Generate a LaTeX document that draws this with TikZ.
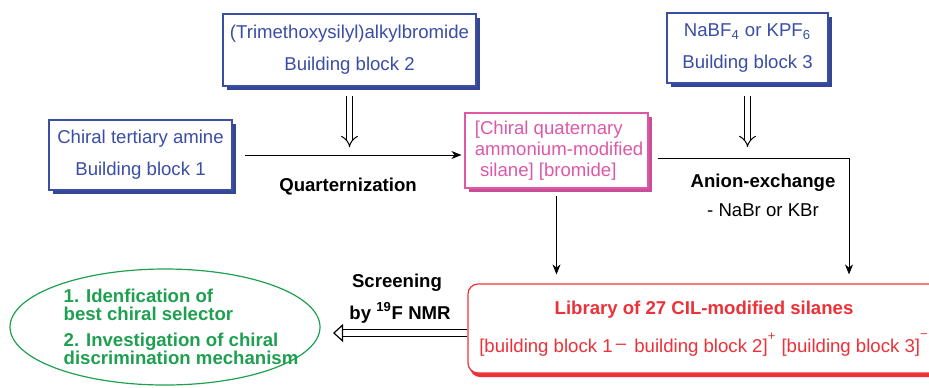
\documentclass[tikz,border=0pt]{standalone}
\usepackage{fontspec}
\setmainfont{Liberation Sans}
\usetikzlibrary{arrows.meta,shapes.geometric,shadows}

\definecolor{bbblue}{RGB}{58,78,165}
\definecolor{quatpink}{RGB}{222,88,168}
\definecolor{cilred}{RGB}{236,50,56}
\definecolor{cilgreen}{RGB}{30,160,80}

\tikzset{
  block/.style={draw=bbblue, text=bbblue, fill=white, line width=0.6pt, align=center, inner sep=0pt,
    drop shadow={shadow xshift=2pt, shadow yshift=-2pt, fill=bbblue!90!black, opacity=1}},
  quatbox/.style={draw=quatpink, text=quatpink, fill=white, line width=0.6pt, align=left, inner sep=0pt,
    font=\fontsize{9.3}{10.5}\selectfont,
    drop shadow={shadow xshift=2pt, shadow yshift=-2pt, fill=quatpink!90!black, opacity=1}},
  libbox/.style={draw=cilred, text=cilred, fill=white, line width=0.6pt, align=center, inner sep=0pt,
    rounded corners=5pt,
    drop shadow={shadow xshift=1pt, shadow yshift=-2pt, fill=cilred, opacity=1}},
  lbl/.style={font=\fontsize{9.3}{11}\selectfont\bfseries},
  dbl/.style={double, double distance=2.5pt, line width=0.5pt, -{Implies}},
  hollow/.style={double, double distance=3pt, line width=0.6pt, -{Triangle[open, length=5pt, width=9pt]}}
}

\begin{document}
\begin{tikzpicture}[x=0.5pt, y=-0.5pt, font=\fontsize{9.3}{11}\selectfont,
  >={Stealth[length=5pt, width=4pt]}]
\useasboundingbox (0,0) rectangle (929,387);

% building blocks
\node[block, minimum width=91.5pt, minimum height=35pt] (amine) at (140.5,155)
  {Chiral tertiary amine\\[5pt]Building block 1};
\node[block, minimum width=126.5pt, minimum height=36pt] (bromide) at (349.5,50)
  {(Trimethoxysilyl)alkylbromide\\[5pt]Building block 2};
\node[block, minimum width=80.5pt, minimum height=35pt] (salt) at (747.5,48)
  {NaBF\textsubscript{4} or KPF\textsubscript{6}\\[5pt]Building block 3};

% intermediate and library
\node[quatbox, minimum width=91.5pt, minimum height=37.5pt] (quat) at (556.5,150.5)
  {\ [Chiral quaternary\\\ ammonium-modified\\\ \ silane] [bromide]};
\node[libbox, minimum width=236pt, minimum height=44.5pt] (library) at (704,328.5)
  {\textbf{Library of 27 CIL-modified silanes}\\[6.5pt][building block 1\raisebox{1.5pt}{\,–\,} building block 2]\raisebox{2pt}{\textsuperscript{+}} [building block 3]\raisebox{3pt}{\textsuperscript{−}}};

% screening result
\draw[cilgreen, line width=0.6pt] (10,327) .. controls (10,295) and (79.4,269) .. (165,269)
  .. controls (250.6,269) and (320,295) .. (320,327)
  .. controls (320,359) and (250.6,385) .. (165,385)
  .. controls (79.4,385) and (10,359) .. (10,327) -- cycle;
\coordinate (resultedge) at (320,333);
\node[text=cilgreen, align=left, inner sep=0pt, font=\fontsize{9.3}{9}\selectfont\bfseries] (result) at (181,327)
  {1. Idenfication of\\best chiral selector\\[4pt]2. Investigation of chiral\\discrimination mechanism};

% labels
\node[lbl] (quatlabel) at (348,187) {Quarternization};
\node[lbl] (anion) at (763,183) {Anion-exchange};
\node (anionsalt) at (763,210) {- NaBr or KBr};
\node[lbl] (screen) at (397,283) {Screening};
\node[lbl] (nmr) at (400,313) {by \textsuperscript{19}F NMR};

% connectors
\coordinate (turn) at (849,158);
\draw[->, shorten <=6pt, shorten >=1.5pt] (amine.east) -- (amine.east -| quat.west);
\draw[dbl, shorten <=4.5pt, shorten >=4pt] (bromide.south) -- (bromide.south |- amine.east);
\draw[dbl, shorten <=6pt, shorten >=5.5pt] (salt.south) -- (salt.south |- turn);
\draw[->, shorten <=4.5pt, shorten >=4.5pt] (quat.east |- turn) -- (turn) -- (turn |- library.north);
\draw[->, shorten <=3.5pt, shorten >=4.5pt] (quat.south) -- (quat.south |- library.north);
\draw[hollow, shorten >=6.5pt] (library.west |- resultedge) -- (resultedge);
\end{tikzpicture}
\end{document}
